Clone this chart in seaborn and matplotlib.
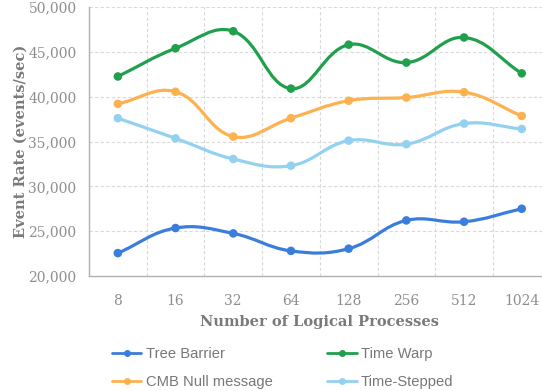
import numpy as np
import pandas as pd
import matplotlib
matplotlib.use('Agg')
import matplotlib.pyplot as plt
from matplotlib.path import Path
from matplotlib.patches import PathPatch
from matplotlib.lines import Line2D
import seaborn as sns


# ============================================
# Data
# ============================================
procs = ['8', '16', '32', '64', '128', '256', '512', '1024']
tree_barrier = [22550, 25350, 24750, 22800, 23050, 26200, 26050, 27500]
time_warp = [42250, 45400, 47300, 40900, 45800, 43800, 46600, 42600]
cmb_null = [39200, 40550, 35550, 37600, 39550, 39900, 40500, 37850]
time_stepped = [37600, 35350, 33050, 32300, 35100, 34700, 37000, 36400]

series_names = ['Tree Barrier', 'Time Warp', 'CMB Null message', 'Time-Stepped']
series_vals = [tree_barrier, time_warp, cmb_null, time_stepped]
colors = ['#3b7ddd', '#20a04c', '#fdb14f', '#93d1f1']
palette = dict(zip(series_names, colors))

rows = []
for name, vals in zip(series_names, series_vals):
    for i, (p, v) in enumerate(zip(procs, vals)):
        rows.append({'series': name, 'procs': p, 'pos': i, 'rate': v})
df = pd.DataFrame(rows)


# ============================================
# Smooth curve (Chart.js-style bezier, tension 0.4)
# ============================================
def smooth_path(ax, xs, ys, tension=0.4):
    pts = ax.transData.transform(np.column_stack([xs, ys]))
    n = len(pts)
    cps = []
    for i in range(n):
        prev = pts[max(i - 1, 0)]
        cur = pts[i]
        nxt = pts[min(i + 1, n - 1)]
        d01 = np.hypot(*(cur - prev))
        d12 = np.hypot(*(nxt - cur))
        tot = d01 + d12
        s01 = d01 / tot if tot else 0
        s12 = d12 / tot if tot else 0
        cps.append((cur - tension * s01 * (nxt - prev),
                    cur + tension * s12 * (nxt - prev)))
    verts = [pts[0]]
    codes = [Path.MOVETO]
    for i in range(n - 1):
        verts += [cps[i][1], cps[i + 1][0], pts[i + 1]]
        codes += [Path.CURVE4] * 3
    verts = ax.transData.inverted().transform(np.array(verts))
    return Path(verts, codes)


# ============================================
# Plot
# ============================================
sns.set_style('white')
W, H = 542, 391
fig = plt.figure(figsize=(W / 100, H / 100), dpi=100)
left, right, top, bottom = 89, 550.6, 7, 276
ax = fig.add_axes([left / W, 1 - bottom / H, (right - left) / W, (bottom - top) / H])

ax.set_xlim(-0.5, len(procs) - 0.5)
ax.set_ylim(20000, 50000)

for name, vals in zip(series_names, series_vals):
    path = smooth_path(ax, np.arange(len(procs)), vals)
    ax.add_patch(PathPatch(path, facecolor='none', edgecolor=palette[name],
                           lw=2.3, zorder=3, capstyle='round'))

sns.scatterplot(data=df, x='pos', y='rate', hue='series', palette=palette,
                s=38, edgecolor='none', legend=False, zorder=4, ax=ax)

# grid
grid_kw = dict(color='#d9d9d9', lw=0.8, ls=(0, (3, 2)), zorder=0)
for yv in range(25000, 50001, 5000):
    ax.axhline(yv, **grid_kw)
for xv in np.arange(0.5, len(procs) - 1, 1.0):
    ax.axvline(xv, **grid_kw)

# ticks
tick_color = '#8e8e8e'
ax.set_xticks(range(len(procs)))
ax.set_xticklabels(procs)
ax.set_yticks(range(20000, 50001, 5000))
ax.set_yticklabels([f'{v:,}' for v in range(20000, 50001, 5000)])
ax.tick_params(axis='both', which='major', length=5, width=0.8,
               color='#b0b0b0', labelcolor=tick_color, labelsize=10)
ax.tick_params(axis='x', pad=8)
ax.tick_params(axis='y', pad=4)
for lbl in ax.get_xticklabels() + ax.get_yticklabels():
    lbl.set_family('DejaVu Serif')

for side in ['top', 'right']:
    ax.spines[side].set_visible(False)
for side in ['left', 'bottom']:
    ax.spines[side].set_color('#b0b0b0')
    ax.spines[side].set_linewidth(1.0)

ax.set_xlabel('Number of Logical Processes', family='DejaVu Serif',
              fontweight='bold', fontsize=10.5, color='#7a7a7a')
ax.set_ylabel('Event Rate (events/sec)', family='DejaVu Serif',
              fontweight='bold', fontsize=10.5, color='#7a7a7a')
ax.xaxis.set_label_coords((W * 0.59 - left) / (right - left), -(322 - bottom) / (bottom - top))
ax.xaxis.label.set_va('center')
ax.yaxis.set_label_coords(-(left - 21) / (right - left), 0.5)
ax.yaxis.label.set_va('center')

# legend
handles = [Line2D([0], [0], color=palette[n], lw=2.0, marker='o', markersize=4)
           for n in series_names]
order = [0, 2, 1, 3]
fig.legend([handles[i] for i in order], [series_names[i] for i in order],
           ncol=2, loc='upper left', bbox_to_anchor=(112 / W, 1 - 347 / H),
           frameon=False, labelcolor='#777777',
           prop={'family': 'Liberation Sans', 'size': 10.6},
           handlelength=2.0, handletextpad=0.3, columnspacing=3.7,
           labelspacing=0.95, borderpad=0, borderaxespad=0)

fig.savefig('out.png', dpi=100)
